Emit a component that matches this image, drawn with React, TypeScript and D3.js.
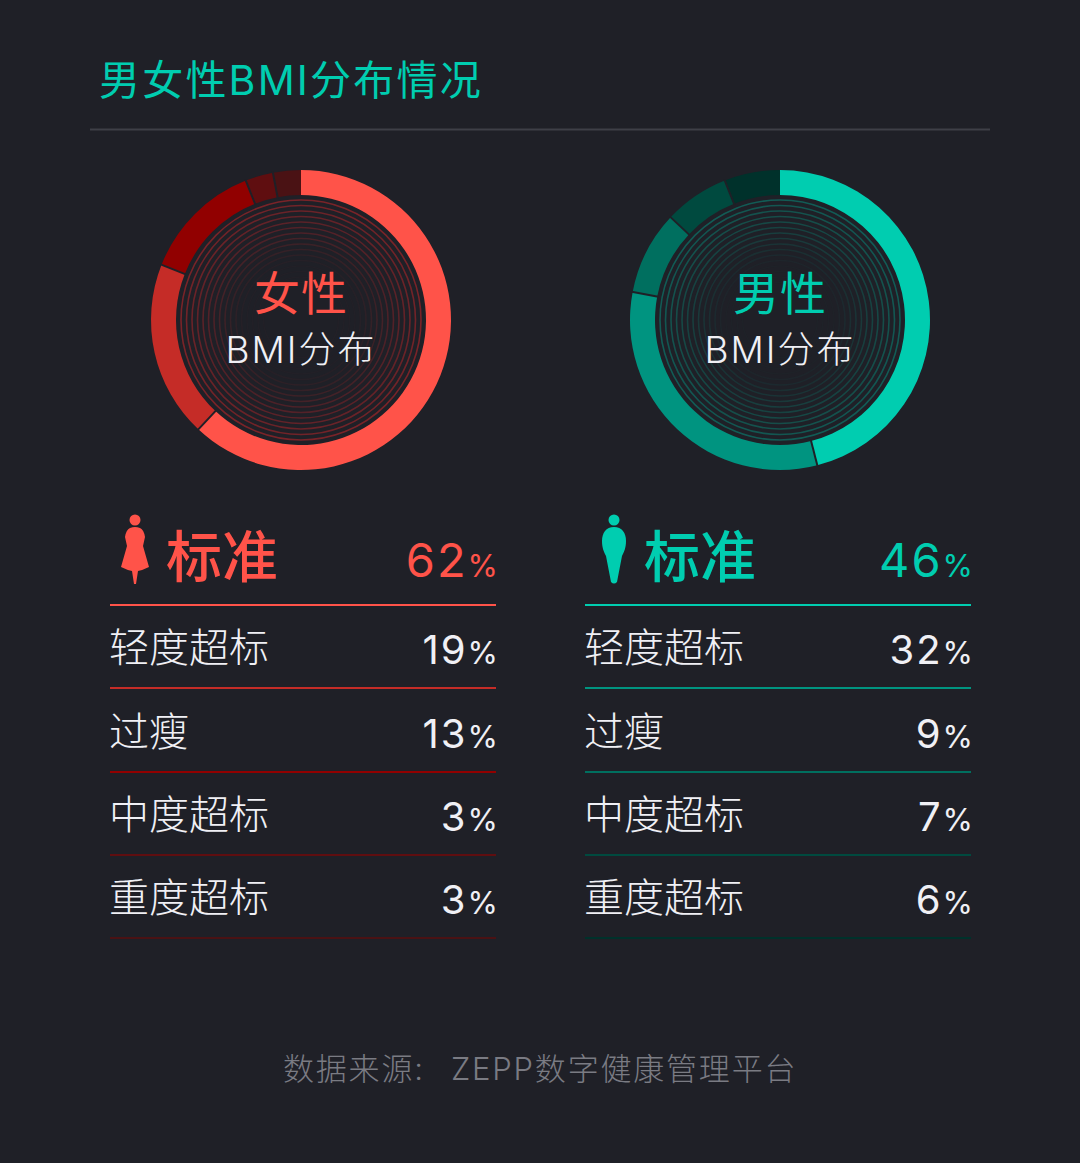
import React from "react";
import * as d3 from "d3";

const categories = ["标准", "轻度超标", "过瘦", "中度超标", "重度超标"];
const femaleValues = [62, 19, 13, 3, 3];
const maleValues = [46, 32, 9, 7, 6];
const femaleColors = ["#ff5349", "#c52c27", "#910000", "#5f0e10", "#4a1214"];
const maleColors = ["#00cdb0", "#009480", "#006f5f", "#004a3f", "#00312b"];
const title = "男女性BMI分布情况";
const source = "数据来源:ZEPP数字健康管理平台";

const W = 1080;
const H = 1163;
const BG = "#1f2027";
const CJK = "'Noto Sans CJK SC', sans-serif";
const LATIN = "Inter, 'Noto Sans CJK SC', sans-serif";
const rowY = [605, 688, 772, 855, 938];

const arcGen = d3.arc<d3.PieArcDatum<number>>().innerRadius(125).outerRadius(150);
const pieGen = d3.pie<number>().sort(null).value((d) => d);
const ringRadii = d3.range(120, 36, -5.5);

function Donut({ cx, values, colors, name, ringColor }: any) {
  const arcs = pieGen(values);
  return (
    <g transform={`translate(${cx},320)`}>
      {ringRadii.map((r, i) => (
        <circle key={r} r={r} fill="none" stroke={ringColor} strokeWidth={1.6}
          opacity={Math.max(0.02, 0.6 - i * 0.05)} />
      ))}
      {arcs.map((a, i) => (
        <path key={i} d={arcGen(a) as string} fill={colors[i]} />
      ))}
      {arcs.map((a, i) => {
        const [x1, y1] = d3.pointRadial(a.endAngle, 124);
        const [x2, y2] = d3.pointRadial(a.endAngle, 151);
        return i === arcs.length - 1 ? null : (
          <line key={i} x1={x1} y1={y1} x2={x2} y2={y2} stroke={BG} strokeWidth={2} />
        );
      })}
      <text y={-10} textAnchor="middle" fontFamily={CJK} fontSize={46} fontWeight={400} fill={colors[0]} letterSpacing={1}>{name}</text>
      <text y={43} textAnchor="middle" fontFamily={LATIN} fontSize={37} fontWeight={300} letterSpacing={2} fill="#f0f0f5">BMI分布</text>
    </g>
  );
}

function Female({ x, color }: any) {
  return (
    <g transform={`translate(${x - 1},0)`} fill={color}>
      <circle cx={0} cy={520} r={5.5} />
      <path d="M-5,528 Q0,526 5,528 Q9,530 10,537 L8,546 L14,567 Q8,570 3,571 L1,584 L-1,584 L-3,571 Q-8,570 -14,567 L-8,546 L-10,537 Q-9,530 -5,528 Z" />
    </g>
  );
}

function Male({ x, color }: any) {
  return (
    <g transform={`translate(${x},0)`} fill={color}>
      <circle cx={0} cy={520} r={5.5} />
      <path d="M0,527 C8,527 12,533 12,541 C12,548 10,552 8,556 L3,582 Q0,585 -3,582 L-8,556 C-10,552 -12,548 -12,541 C-12,533 -8,527 0,527 Z" />
    </g>
  );
}

function Table({ x0, x1, values, colors, Icon, iconX }: any) {
  return (
    <g>
      <Icon x={iconX} color={colors[0]} />
      {categories.map((c, i) => (
        <g key={c}>
          <line x1={x0} x2={x1} y1={rowY[i]} y2={rowY[i]} stroke={colors[i]} strokeWidth={2} />
          {i === 0 ? (
            <text x={iconX + 30} y={577} fontFamily={CJK} fontSize={56} fontWeight={500} fill={colors[0]}>{c}</text>
          ) : (
            <text x={x0 - 1} y={rowY[i] - 26} fontFamily={CJK} fontSize={40} fontWeight={300} fill="#f0f0f5">{c}</text>
          )}
          <text x={x1 + 2} y={i === 0 ? 577 : rowY[i] - 24} textAnchor="end" fontFamily={LATIN} fill={i === 0 ? colors[0] : "#f0f0f5"} fontWeight={400}>
            <tspan fontSize={i === 0 ? 47 : 40} letterSpacing={2}>{values[i]}</tspan>
            <tspan fontSize={31}>%</tspan>
          </text>
        </g>
      ))}
    </g>
  );
}

export default function App() {
  const [srcHead, srcTail] = source.split(":");
  return (
    <svg width={W} height={H} viewBox={`0 0 ${W} ${H}`} style={{ position: "absolute", left: 0, top: 0, display: "block" }}>
      <rect width={W} height={H} fill={BG} />
      <text x={99} y={95} fontFamily={LATIN} fontSize={41} fontWeight={400} letterSpacing={2.2} fill="#00cdb0">{title}</text>
      <line x1={90} x2={990} y1={129.5} y2={129.5} stroke="#3e3f47" strokeWidth={2} />
      <Donut cx={301} values={femaleValues} colors={femaleColors} name="女性" ringColor="#b5262a" />
      <Donut cx={780} values={maleValues} colors={maleColors} name="男性" ringColor="#0a8474" />
      <Table x0={110} x1={496} values={femaleValues} colors={femaleColors} Icon={Female} iconX={136} />
      <Table x0={585} x1={971} values={maleValues} colors={maleColors} Icon={Male} iconX={614} />
      <text x={283} y={1080} fontFamily={LATIN} fontSize={31} fontWeight={300} letterSpacing={1.8} fill="#7a7b83">{srcHead}:</text>
      <text x={451} y={1080} fontFamily={LATIN} fontSize={31} fontWeight={300} letterSpacing={1.8} fill="#7a7b83">{srcTail}</text>
    </svg>
  );
}
